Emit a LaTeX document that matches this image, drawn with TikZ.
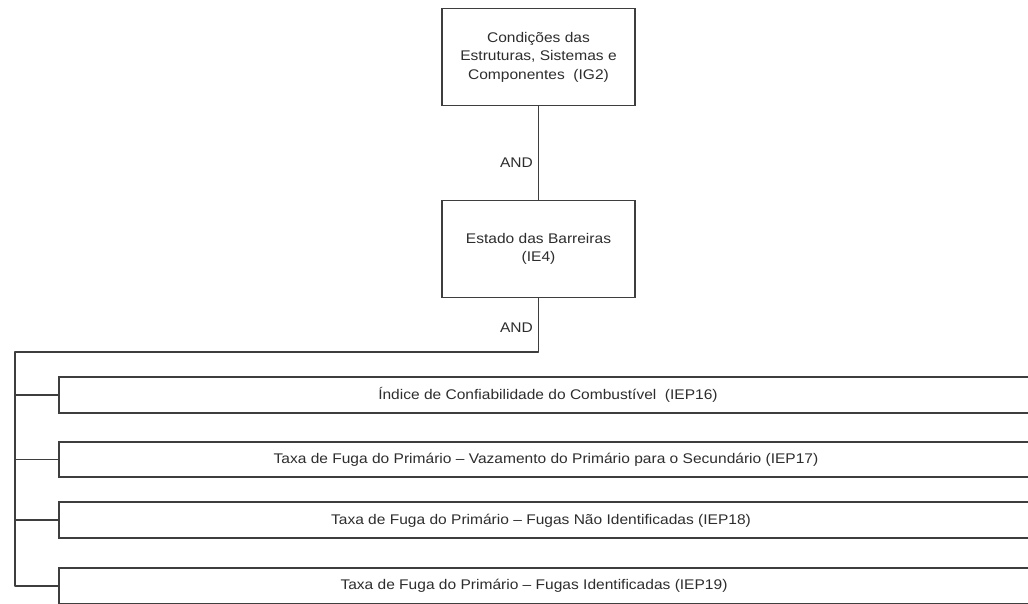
\documentclass[tikz,border=0pt]{standalone}
\usepackage{fontspec}
\setmainfont[FakeStretch=1.11]{Liberation Sans}
\begin{document}
\begin{tikzpicture}[x=1pt,y=-1pt,
  wire/.style={draw=linegray,line width=1.9pt},
  topbox/.style={wire,fill=white,minimum width=193pt,minimum height=97pt,inner sep=0pt,
    align=center,text=textgray,font=\fontsize{14}{18.5}\selectfont},
  rowbox/.style={wire,fill=white,anchor=west,minimum width=1010pt,minimum height=35.5pt,inner sep=0pt},
  rowtext/.style={anchor=base,text=textgray,font=\fontsize{14}{17}\selectfont,inner sep=0pt},
  gate/.style={text=textgray,font=\fontsize{14}{17}\selectfont,inner sep=0pt}]
\definecolor{linegray}{RGB}{62,62,62}
\definecolor{textgray}{RGB}{45,45,45}
\useasboundingbox (0,0) rectangle (1028,603);
\clip (0,0) rectangle (1028,603);

% upper hierarchy
\node[topbox] (ig2) at (538.5,57) {Condições das\\Estruturas, Sistemas e\\Componentes\ \ (IG2)};
\node[topbox] (ie4) at (538.5,249) {Estado das Barreiras\\(IE4)};
\draw[wire] (ig2.south) -- (ie4.south |- ie4.north);
\node[gate] (and1) at (516.5,163) {AND};

% indicator rows
\node[rowbox] (r16) at (58,395) {};
\node[rowbox] (r17) at (58,459.5) {};
\node[rowbox] (r18) at (58,520) {};
\node[rowbox] (r19) at (58,585.8) {};

\node[rowtext] (t16) at (548,399) {Índice de Confiabilidade do Combustível\ \ (IEP16)};
\node[rowtext] (t17) at (546,463.5) {Taxa de Fuga do Primário – Vazamento do Primário para o Secundário (IEP17)};
\node[rowtext] (t18) at (541,524) {Taxa de Fuga do Primário – Fugas Não Identificadas (IEP18)};
\node[rowtext] (t19) at (534,589.5) {Taxa de Fuga do Primário – Fugas Identificadas (IEP19)};

% AND bus feeding the rows
\coordinate (bustop) at (15,352);
\coordinate (busbot) at (15,585.8);
\draw[wire,line join=round] (ie4.south) |- (bustop) -- (busbot) -- (r19.west);
\draw[wire] (r16.west -| bustop) -- (r16.west);
\draw[wire] (r17.west -| bustop) -- (r17.west);
\draw[wire] (r18.west -| bustop) -- (r18.west);
\node[gate] (and2) at (516.5,327.5) {AND};
\end{tikzpicture}
\end{document}
